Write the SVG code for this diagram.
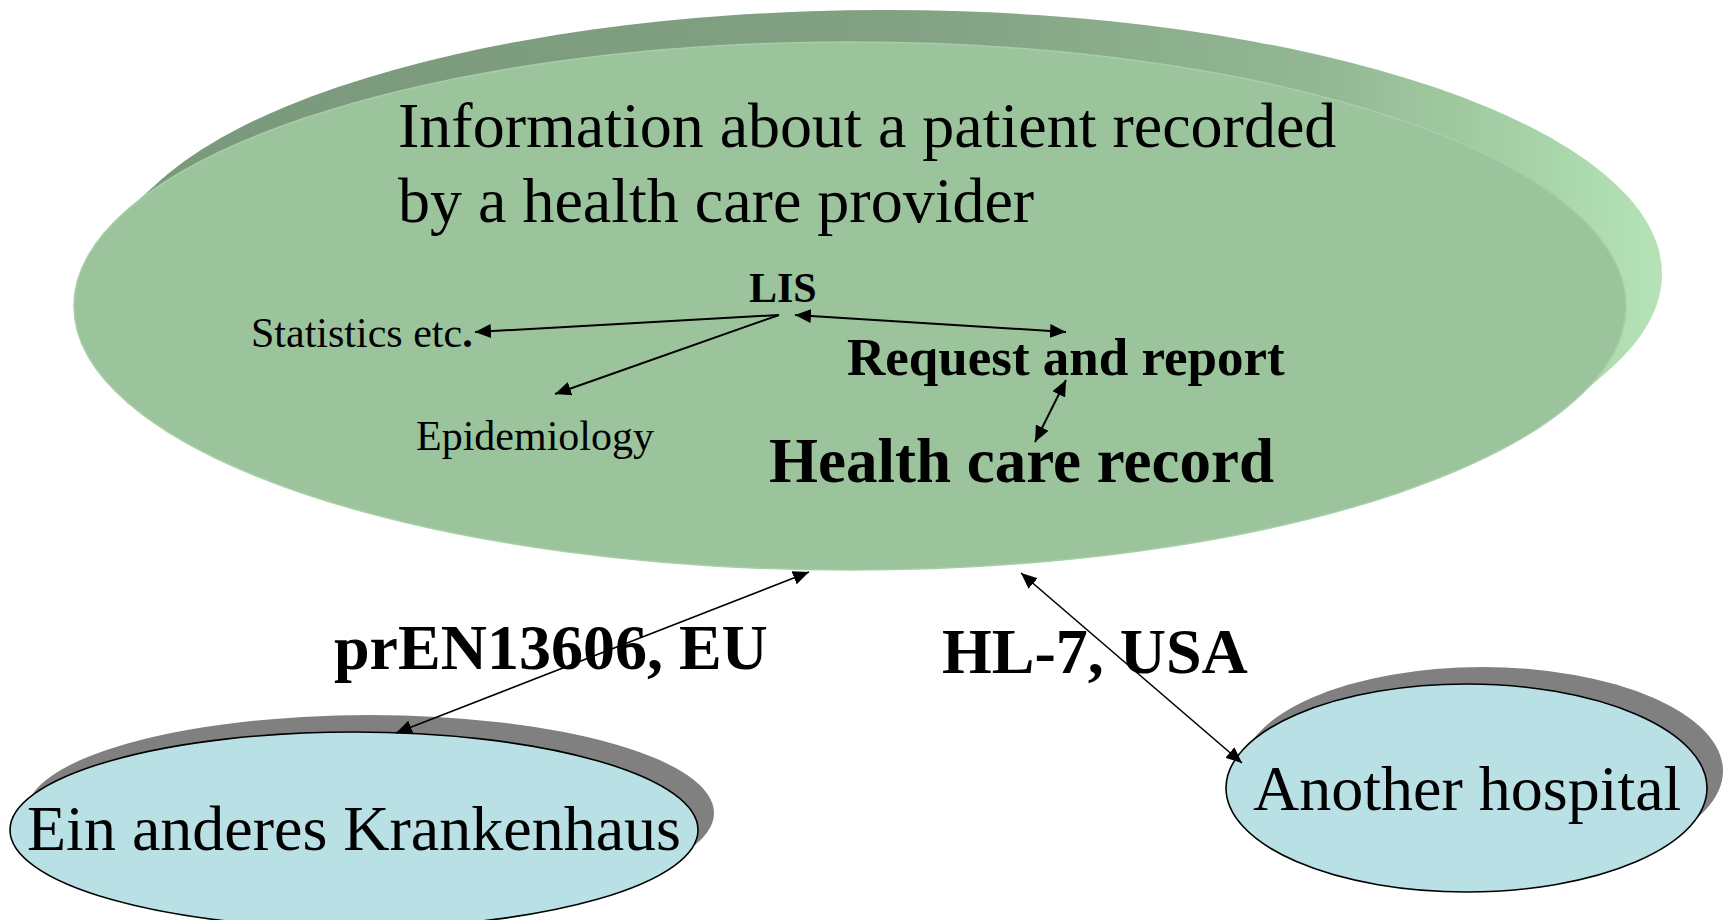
<svg xmlns="http://www.w3.org/2000/svg" width="1728" height="920" viewBox="0 0 1728 920">
  <style>
    .serif { font-family: "Liberation Serif", "Times New Roman", serif; fill: #000; }
    .b { font-weight: bold; }
    .conn { stroke: #000; fill: none; }
    .hosp { fill: #b9e0e4; stroke: #000; stroke-width: 1.6; }
    .shadow { fill: #808080; }
  </style>
  <defs>
    <linearGradient id="side" gradientUnits="userSpaceOnUse" x1="100" y1="0" x2="1662" y2="0">
      <stop offset="0" stop-color="#7a987b"/>
      <stop offset="0.5" stop-color="#81a182"/>
      <stop offset="0.78" stop-color="#92b793"/>
      <stop offset="0.93" stop-color="#a9d5aa"/>
      <stop offset="1" stop-color="#b5e3b7"/>
    </linearGradient>
    <marker id="arr" markerUnits="userSpaceOnUse" markerWidth="16" markerHeight="14" refX="16" refY="7" orient="auto-start-reverse" viewBox="0 0 16 14">
      <path d="M0,0 L16,7 L0,14 z" fill="#000"/>
    </marker>
  </defs>

  <g id="main-node">
    <path fill="url(#side)" d="M125.3,211.7 L161.3,179.7 A776,264 0 0 1 1610.7,368.3 L1574.7,400.3 Z"/>
    <ellipse cx="886" cy="274" rx="776" ry="264" fill="url(#side)"/>
    <ellipse cx="850" cy="306" rx="776" ry="264" fill="#9bc49c" stroke="#a6cea7" stroke-width="1.5"/>
    <text class="serif" x="398" y="147" font-size="64">Information about a patient recorded</text>
    <text class="serif" x="398" y="222" font-size="64">by a health care provider</text>
  </g>

  <g id="lis"><text class="serif b" x="749" y="302" font-size="42">LIS</text></g>
  <g id="statistics"><text class="serif" x="251" y="347" font-size="42">Statistics etc<tspan class="b">.</tspan></text></g>
  <g id="epidemiology"><text class="serif" x="416" y="450" font-size="42">Epidemiology</text></g>
  <g id="request"><text class="serif b" x="847" y="375" font-size="53">Request and report</text></g>
  <g id="record"><text class="serif b" x="769" y="482" font-size="63">Health care record</text></g>

  <g id="hospital-de">
    <ellipse class="shadow" cx="370" cy="813" rx="344" ry="98"/>
    <ellipse class="hosp" cx="354" cy="830" rx="344" ry="98"/>
    <text class="serif" x="27" y="850" font-size="64">Ein anderes Krankenhaus</text>
  </g>

  <g id="hospital-us">
    <ellipse class="shadow" cx="1482.5" cy="771" rx="240.5" ry="104"/>
    <ellipse class="hosp" cx="1466.5" cy="788" rx="240.5" ry="104"/>
    <text class="serif" x="1253" y="810" font-size="64">Another hospital</text>
  </g>

  <g id="label-eu"><text class="serif b" x="334" y="669" font-size="64">prEN13606, EU</text></g>
  <g id="label-us"><text class="serif b" x="942" y="673" font-size="64">HL-7, USA</text></g>

  <g id="connectors">
    <line class="conn" stroke-width="2" x1="779" y1="315" x2="475" y2="332" marker-end="url(#arr)"/>
    <line class="conn" stroke-width="2" x1="779" y1="315" x2="555" y2="394" marker-end="url(#arr)"/>
    <line class="conn" stroke-width="2" x1="795" y1="315" x2="1066" y2="332" marker-start="url(#arr)" marker-end="url(#arr)"/>
    <line class="conn" stroke-width="2" x1="1066" y1="380" x2="1035" y2="442" marker-start="url(#arr)" marker-end="url(#arr)"/>
    <line class="conn" stroke-width="1.6" x1="809" y1="572" x2="396" y2="733" marker-start="url(#arr)" marker-end="url(#arr)"/>
    <line class="conn" stroke-width="1.6" x1="1021" y1="573" x2="1242" y2="763" marker-start="url(#arr)" marker-end="url(#arr)"/>
  </g>
</svg>
